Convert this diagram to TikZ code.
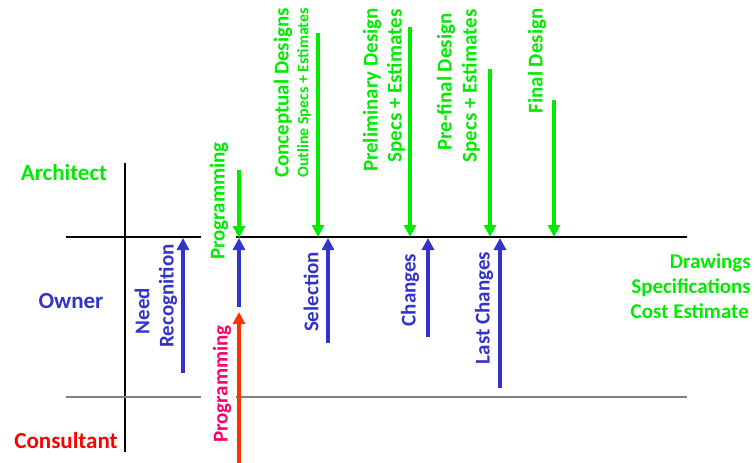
\documentclass[tikz,border=0pt]{standalone}
\usepackage{fontspec}
\setmainfont{Carlito}
\usetikzlibrary{arrows.meta}
\definecolor{agreen}{RGB}{0,235,0}
\definecolor{oblue}{RGB}{51,51,204}
\definecolor{cred}{RGB}{255,0,0}
\definecolor{cpink}{RGB}{255,0,102}
\definecolor{corange}{RGB}{255,51,0}
\tikzset{
  lbl/.style={font=\bfseries\fontsize{23}{27}\selectfont, inner sep=0pt},
  vtxt/.style={font=\bfseries\fontsize{21}{25}\selectfont, inner sep=0pt, rotate=90, anchor=center},
  vsmall/.style={font=\bfseries\fontsize{16}{19}\selectfont, inner sep=0pt, rotate=90, anchor=center},
  rtxt/.style={font=\bfseries\fontsize{21}{25}\selectfont, inner sep=0pt, anchor=base east, text=agreen},
  arr/.style={line width=4pt, -{Triangle[width=12pt,length=12pt]}},
  garr/.style={arr, draw=agreen},
  barr/.style={arr, draw=oblue},
  rarr/.style={arr, draw=corange},
  divline/.style={line width=1.5pt, draw=black},
  grayline/.style={line width=2pt, draw=black!50},
}
\begin{document}
\begin{tikzpicture}[x=1pt,y=-1pt]
\useasboundingbox (0,0) rectangle (756,463);
% grid lines
\coordinate (vT) at (125,163); \coordinate (vB) at (125,452);
\draw[line width=1.3pt] (vT) -- (vB);
\coordinate (tL) at (66,237); \coordinate (tM1) at (201,237);
\coordinate (tM2) at (236,237); \coordinate (tR) at (687,237);
\draw[divline] (tL) -- (tM1);
\draw[divline] (tM2) -- (tR);
\coordinate (bL) at (66,397); \coordinate (bM1) at (201,397);
\coordinate (bM2) at (236,397); \coordinate (bR) at (687,397);
\draw[grayline] (bL) -- (bM1);
\draw[grayline] (bM2) -- (bR);
% role labels
\node[lbl, text=agreen, anchor=base] (architect) at (64,180) {Architect};
\node[lbl, text=oblue, anchor=base] (owner) at (71,308) {Owner};
\node[lbl, text=cred, anchor=base] (consultant) at (66,448) {Consultant};
% Need recognition
\node[vtxt, text=oblue] (need) at (142,311) {Need};
\node[vtxt, text=oblue] (recog) at (168,296) {Recognition};
\coordinate (nrA) at (183,373); \coordinate (nrB) at (183,238);
\draw[barr] (nrA) -- (nrB);
% Programming
\node[vtxt, text=agreen] (progA) at (219,201) {Programming};
\coordinate (pgA) at (239,170); \coordinate (pgB) at (239,238);
\draw[garr] (pgA) -- (pgB);
\coordinate (pbA) at (239,307); \coordinate (pbB) at (239,238);
\draw[barr] (pbA) -- (pbB);
\node[vtxt, text=cpink] (progC) at (222,384) {Programming};
\coordinate (prA) at (239,465); \coordinate (prB) at (239,312);
\draw[rarr] (prA) -- (prB);
% Conceptual designs
\node[vtxt, text=agreen] (concept) at (283,93) {Conceptual Designs};
\node[vsmall, text=agreen] (outline) at (304,93) {Outline Specs + Estimates};
\coordinate (cA) at (318,33); \coordinate (cB) at (318,237);
\draw[garr] (cA) -- (cB);
\node[vtxt, text=oblue] (select) at (311,292) {Selection};
\coordinate (sA) at (328,343); \coordinate (sB) at (328,238);
\draw[barr] (sA) -- (sB);
% Preliminary design
\node[vtxt, text=agreen] (prelim) at (372,90) {Preliminary Design};
\node[vtxt, text=agreen] (prelimS) at (396,86) {Specs + Estimates};
\coordinate (plA) at (410,27); \coordinate (plB) at (410,237);
\draw[garr] (plA) -- (plB);
\node[vtxt, text=oblue] (changes) at (410,290) {Changes};
\coordinate (chA) at (428,337); \coordinate (chB) at (428,238);
\draw[barr] (chA) -- (chB);
% Pre-final design
\node[vtxt, text=agreen] (prefinal) at (446,82) {Pre-final Design};
\node[vtxt, text=agreen] (prefinalS) at (471,86) {Specs + Estimates};
\coordinate (pfA) at (490,69); \coordinate (pfB) at (490,237);
\draw[garr] (pfA) -- (pfB);
\node[vtxt, text=oblue] (lastch) at (484,308) {Last Changes};
\coordinate (lcA) at (500,388); \coordinate (lcB) at (500,238);
\draw[barr] (lcA) -- (lcB);
% Final design
\node[vtxt, text=agreen] (final) at (537,61) {Final Design};
\coordinate (fA) at (554,100); \coordinate (fB) at (554,237);
\draw[garr] (fA) -- (fB);
% deliverables
\node[rtxt] (draw) at (751,268) {Drawings};
\node[rtxt] (spec) at (751,293) {Specifications};
\node[rtxt] (cost) at (749,318) {Cost Estimate};
\end{tikzpicture}
\end{document}
